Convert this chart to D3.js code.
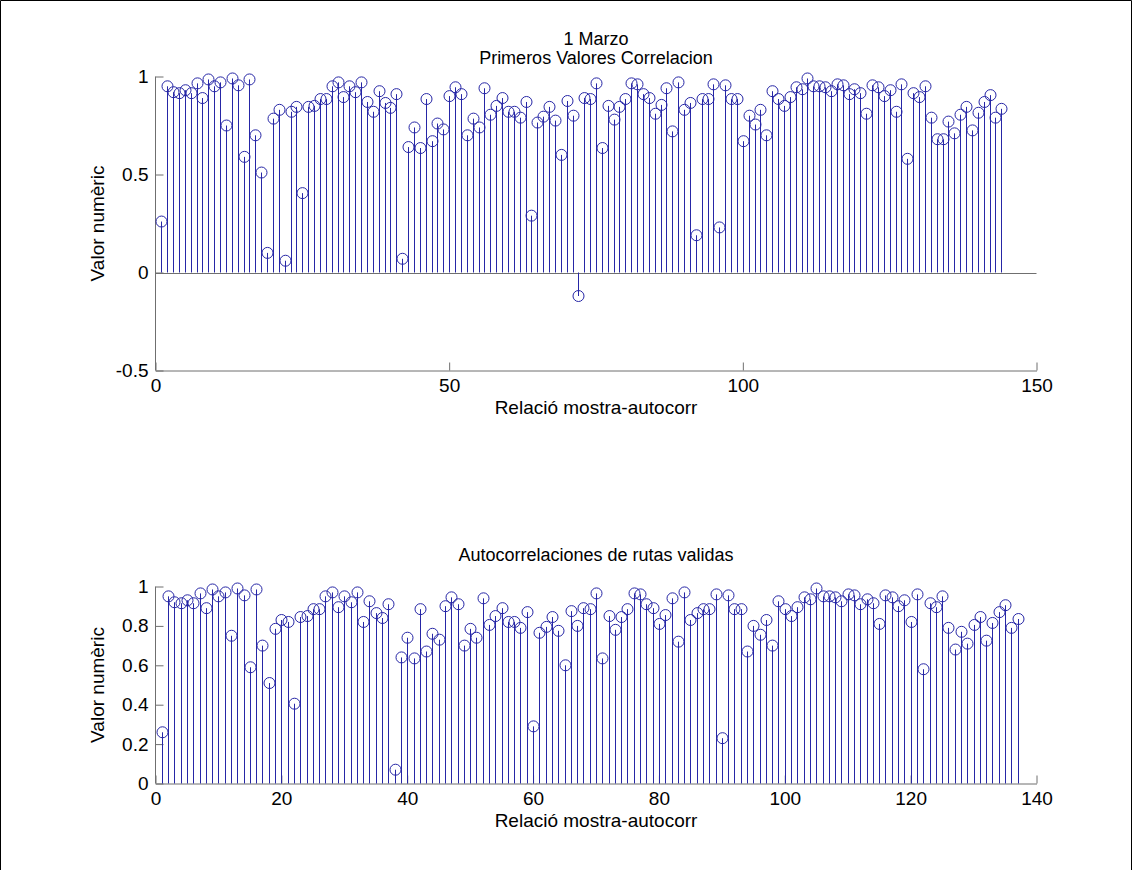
<!DOCTYPE html>
<html lang="en">
<head>
<meta charset="UTF-8">
<title>Autocorrelaciones</title>
<script src="https://d3js.org/d3.v7.min.js"></script>
<style>
  body { margin: 0; background: #fff; }
  svg { display: block; }
  text { font-family: "Liberation Sans", Arial, sans-serif; fill: #000; }
  .axis path, .axis line { stroke: #6f6f6f; }
  .axis text { font-size: 19px; }
  .stem { stroke: #2626a6; stroke-width: 1; }
  .mark { fill: none; stroke: #2626a6; stroke-width: 1; }
</style>
</head>
<body>
<div id="chart"></div>
<script>
// primer grafic: tots els valors (1..144)
const topValues = [
  0.26, 0.95, 0.92, 0.915, 0.93, 0.915, 0.965, 0.89, 0.985, 0.95,
  0.97, 0.75, 0.99, 0.955, 0.59, 0.985, 0.70, 0.51, 0.10, 0.785,
  0.83, 0.06, 0.82, 0.845, 0.405, 0.845, 0.85, 0.885, 0.885, 0.95,
  0.97, 0.895, 0.95, 0.92, 0.97, 0.87, 0.82, 0.925, 0.865, 0.84,
  0.91, 0.07, 0.64, 0.74, 0.635, 0.885, 0.67, 0.76, 0.73, 0.90,
  0.945, 0.91, 0.70, 0.785, 0.74, 0.94, 0.805, 0.85, 0.89, 0.82,
  0.82, 0.79, 0.87, 0.29, 0.765, 0.795, 0.845, 0.775, 0.60, 0.875,
  0.80, -0.12, 0.89, 0.885, 0.965, 0.635, 0.85, 0.78, 0.845, 0.885,
  0.965, 0.96, 0.91, 0.89, 0.81, 0.855, 0.94, 0.72, 0.97, 0.83,
  0.865, 0.19, 0.885, 0.885, 0.96, 0.23, 0.955, 0.885, 0.885, 0.67,
  0.80, 0.755, 0.83, 0.70, 0.925, 0.885, 0.85, 0.895, 0.945, 0.935,
  0.99, 0.95, 0.95, 0.945, 0.925, 0.96, 0.955, 0.91, 0.935, 0.915,
  0.81, 0.955, 0.945, 0.90, 0.93, 0.82, 0.96, 0.58, 0.915, 0.895,
  0.95, 0.79, 0.68, 0.68, 0.77, 0.71, 0.805, 0.845, 0.725, 0.815,
  0.87, 0.905, 0.79, 0.835
];

// segon grafic: rutes valides (1..137)
const validValues = [
  0.26, 0.95, 0.92, 0.915, 0.93, 0.915, 0.965, 0.89, 0.985, 0.95,
  0.97, 0.75, 0.99, 0.955, 0.59, 0.985, 0.70, 0.51, 0.785, 0.83,
  0.82, 0.405, 0.845, 0.85, 0.885, 0.885, 0.95, 0.97, 0.895, 0.95,
  0.92, 0.97, 0.82, 0.925, 0.865, 0.84, 0.91, 0.07, 0.64, 0.74,
  0.635, 0.885, 0.67, 0.76, 0.73, 0.90, 0.945, 0.91, 0.70, 0.785,
  0.74, 0.94, 0.805, 0.85, 0.89, 0.82, 0.82, 0.79, 0.87, 0.29,
  0.765, 0.795, 0.845, 0.775, 0.60, 0.875, 0.80, 0.89, 0.885, 0.965,
  0.635, 0.85, 0.78, 0.845, 0.885, 0.965, 0.96, 0.91, 0.89, 0.81,
  0.855, 0.94, 0.72, 0.97, 0.83, 0.865, 0.885, 0.885, 0.96, 0.23,
  0.955, 0.885, 0.885, 0.67, 0.80, 0.755, 0.83, 0.70, 0.925, 0.885,
  0.85, 0.895, 0.945, 0.935, 0.99, 0.95, 0.95, 0.945, 0.925, 0.96,
  0.955, 0.91, 0.935, 0.915, 0.81, 0.955, 0.945, 0.90, 0.93, 0.82,
  0.96, 0.58, 0.915, 0.895, 0.95, 0.79, 0.68, 0.77, 0.71, 0.805,
  0.845, 0.725, 0.815, 0.87, 0.905, 0.79, 0.835
];

const topXTicks = [0, 50, 100, 150];
const topYTicks = [-0.5, 0, 0.5, 1];
const botXTicks = [0, 20, 40, 60, 80, 100, 120, 140];
const botYTicks = [0, 0.2, 0.4, 0.6, 0.8, 1];

const W = 1132, H = 870;

const svg = d3.select("#chart").append("svg")
  .attr("width", W).attr("height", H);

svg.append("rect").attr("width", W).attr("height", H).attr("fill", "#fff");
// marc de la figura
svg.append("path")
  .attr("d", `M0.5,${H} V0.5 H${W - 0.5} V${H}`)
  .attr("fill", "none").attr("stroke", "#000");

// format tipus matlab: guio normal per al signe negatiu
const fmt = d => String(+d.toFixed(2));

function stemPlot(opts) {
  const x = d3.scaleLinear().domain(opts.xDomain).range([155.5, 1036.5]);
  const y = d3.scaleLinear().domain(opts.yDomain).range([opts.bottom, opts.top]);
  const g = svg.append("g");

  // eix x
  g.append("g").attr("class", "axis")
    .attr("transform", `translate(0,${opts.bottom})`)
    .call(d3.axisBottom(x).tickValues(opts.xTicks).tickFormat(fmt)
      .tickSizeInner(-8).tickSizeOuter(0).tickPadding(4))
    .call(a => a.selectAll("text").attr("dy", "0.9em"));

  // eix y
  g.append("g").attr("class", "axis")
    .attr("transform", "translate(155.5,0)")
    .call(d3.axisLeft(y).tickValues(opts.yTicks).tickFormat(fmt)
      .tickSizeInner(-8).tickSizeOuter(0).tickPadding(7))
    .call(a => a.select(".domain").remove())
    .call(a => a.append("line").attr("y1", opts.top).attr("y2", opts.bottom)
      .attr("stroke", "#6f6f6f"));

  // linia base a zero
  if (opts.yDomain[0] < 0) {
    g.append("line")
      .attr("x1", x(0)).attr("x2", x(opts.xDomain[1]))
      .attr("y1", Math.round(y(0)) + 0.5).attr("y2", Math.round(y(0)) + 0.5)
      .attr("stroke", "#6f6f6f");
  }

  const pts = opts.values.map((v, i) => ({ n: i + 1, v: v }));

  g.selectAll("line.stem").data(pts).enter().append("line")
    .attr("class", "stem")
    .attr("x1", d => Math.round(x(d.n)) + 0.5).attr("x2", d => Math.round(x(d.n)) + 0.5)
    .attr("y1", y(0)).attr("y2", d => y(d.v));

  g.selectAll("circle.mark").data(pts).enter().append("circle")
    .attr("class", "mark")
    .attr("cx", d => Math.round(x(d.n)) + 0.5).attr("cy", d => y(d.v))
    .attr("r", 5.5);

  const cx = (155.5 + 1036.5) / 2;
  opts.title.forEach((t, i) => {
    g.append("text").attr("x", cx).attr("y", opts.titleY + i * 19)
      .attr("text-anchor", "middle").style("font-size", "18px").text(t);
  });

  g.append("text").attr("x", cx).attr("y", opts.bottom + 43)
    .attr("text-anchor", "middle").style("font-size", "19px")
    .text("Relació mostra-autocorr");

  g.append("text")
    .attr("transform", `translate(104,${(opts.top + opts.bottom) / 2}) rotate(-90)`)
    .attr("text-anchor", "middle").style("font-size", "19px")
    .text("Valor numèric");
}

stemPlot({
  values: topValues, xDomain: [0, 150], yDomain: [-0.5, 1],
  xTicks: topXTicks, yTicks: topYTicks,
  top: 76.5, bottom: 370.5,
  title: ["1 Marzo", "Primeros Valores Correlacion"], titleY: 45
});

stemPlot({
  values: validValues, xDomain: [0, 140], yDomain: [0, 1],
  xTicks: botXTicks, yTicks: botYTicks,
  top: 586.5, bottom: 783.5,
  title: ["Autocorrelaciones de rutas validas"], titleY: 561
});
</script>
</body>
</html>
